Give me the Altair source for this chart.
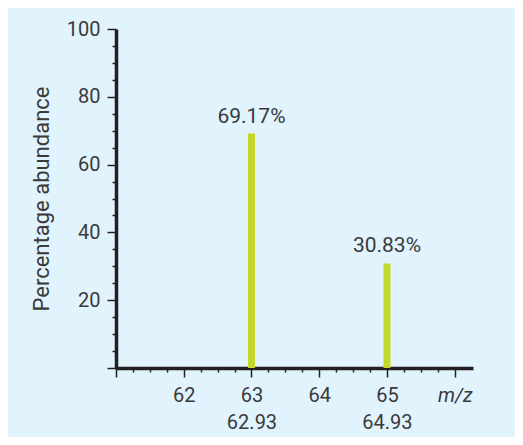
import altair as alt
import pandas as pd

mz = [63, 65]
abundance = [69.17, 30.83]
pct_labels = ["69.17%", "30.83%"]
exact_mass = ["62.93", "64.93"]

x_major = [61, 62, 63, 64, 65, 66]
x_minor = [61.25, 61.5, 61.75, 62.25, 62.5, 62.75, 63.25, 63.5, 63.75,
           64.25, 64.5, 64.75, 65.25, 65.5, 65.75]
y_major = [0, 20, 40, 60, 80, 100]
y_minor = [5, 10, 15, 25, 30, 35, 45, 50, 55, 65, 70, 75, 85, 90, 95]

df = pd.DataFrame({"mz": mz, "abundance": abundance, "label": pct_labels})

FONT = "Roboto"
DARK = "#231f20"
TEXT = "#3a3a3a"

label_expr = (
    f"datum.value == {mz[0]} ? ['{mz[0]}', '{exact_mass[0]}'] : "
    f"datum.value == {mz[1]} ? ['{mz[1]}', '{exact_mass[1]}'] : "
    "datum.value == 66 ? 'm/z' : datum.value == 61 ? '' : datum.label"
)

xscale = alt.Scale(domain=[61, 66.27], nice=False, zero=False, padding=0)
yscale = alt.Scale(domain=[0, 100], nice=False)

bars = alt.Chart(df).mark_bar(size=7, color="#c4d82c").encode(
    x=alt.X("mz:Q", scale=xscale, axis=alt.Axis(
        orient="bottom", values=x_major, labelExpr=label_expr, title=None,
        tickSize=9, tickWidth=1.5, tickColor=DARK, domainWidth=3.5, domainColor=DARK,
        labelFont=FONT, labelFontSize=20, labelColor=TEXT, labelPadding=8,
        labelLineHeight=27, grid=False,
        labelFontStyle={"condition": {"test": "datum.value == 66", "value": "italic"}, "value": "normal"},
    )),
    y=alt.Y("abundance:Q", scale=yscale, axis=alt.Axis(
        orient="left", values=y_major, title="Percentage abundance",
        labelExpr="datum.value == 0 ? '' : datum.label",
        tickSize=9, tickWidth=1.5, tickColor=DARK, domainWidth=3.5, domainColor=DARK,
        labelFont=FONT, labelFontSize=20, labelColor=TEXT, labelPadding=7,
        titleFont=FONT, titleFontSize=22, titleFontWeight="normal", titleColor=TEXT,
        titlePadding=13, grid=False,
    )),
)

texts = alt.Chart(df).mark_text(
    font=FONT, fontSize=21, color=TEXT, baseline="bottom", dy=-7
).encode(
    x=alt.X("mz:Q", scale=xscale, axis=alt.Axis(
        orient="bottom", values=x_minor, labels=False, domain=False, title=None,
        tickSize=4, tickWidth=1.5, tickColor=DARK, grid=False)),
    y=alt.Y("abundance:Q", scale=yscale, axis=alt.Axis(
        orient="left", values=y_minor, labels=False, domain=False, title=None,
        tickSize=4, tickWidth=1.5, tickColor=DARK, grid=False)),
    text="label:N",
)

chart = alt.layer(bars, texts).resolve_axis(x="independent", y="independent").properties(
    width=357, height=339,
    autosize=alt.AutoSizeParams(type="none"),
    padding={"left": 108, "top": 21, "right": 42, "bottom": 69},
    background="#e1f3fc",
).configure_view(stroke=None)

chart.save("out.html", embed_options={"renderer": "svg", "actions": False})
